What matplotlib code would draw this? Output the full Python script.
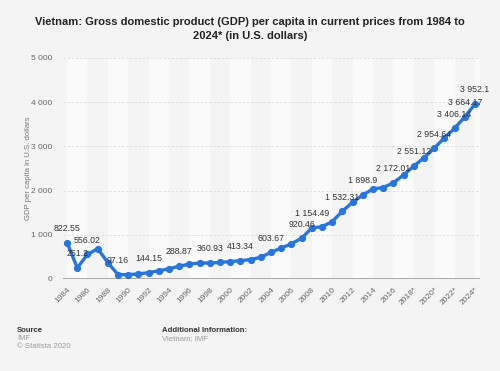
import matplotlib.pyplot as plt
import numpy as np

plt.rcParams['font.family'] = ['Liberation Sans', 'DejaVu Sans']

# --- data (IMF) ---
years = list(range(1984, 2025))
gdp = [822.55, 251.2, 556.02, 686, 370, 97.16, 98.03, 114, 144.15, 185,
       230, 288.87, 337, 361, 360.93, 374, 394.58, 413.34, 440, 489,
       603.67, 699, 797, 920.46, 1154.49, 1181, 1297, 1532.31, 1735, 1898.9,
       2035, 2068, 2172.01, 2353, 2551.12, 2740, 2954.64, 3190, 3406.14, 3664.17,
       3952.1]
labelled = [1984, 1985, 1986, 1989, 1992, 1995, 1998, 2001, 2004, 2007, 2008,
            2011, 2013, 2016, 2018, 2020, 2022, 2023, 2024]
tick_years = list(range(1984, 2025, 2))
tick_labels = [str(y) + ('*' if y >= 2018 else '') for y in tick_years]
y_ticks = [0, 1000, 2000, 3000, 4000, 5000]


def fmt(v):
    s = f"{v:,.2f}".rstrip('0').rstrip('.')
    return s.replace(',', ' ')


bg = '#f4f4f4'
fig = plt.figure(figsize=(5, 3.71), dpi=100, facecolor=bg)
ax = fig.add_axes([0.126, 0.248, 0.834, 0.596])
ax.set_facecolor(bg)

# alternating bands
for start in range(1984, 2025, 4):
    ax.axvspan(start, start + 2, color='#fafafa', zorder=0, lw=0)

ax.set_xlim(1983.6, 2024.5)
ax.set_ylim(0, 5000)

for v in y_ticks[1:]:
    ax.axhline(v, color='#dddddd', lw=0.6, ls=(0, (3, 2)), zorder=1)
ax.axhline(0, color='#999999', lw=1.2, zorder=2)

ax.plot(years, gdp, color='#2876dd', lw=2.4, marker='o', ms=4.2, zorder=3)

for y, v in zip(years, gdp):
    if y in labelled:
        ax.annotate(fmt(v), (y, v), xytext=(0, 7), textcoords='offset points',
                    ha='center', va='bottom', fontsize=6.3, color='#333333', zorder=4)

ax.set_yticks(y_ticks)
ax.set_yticklabels([fmt(v) for v in y_ticks])
ax.set_xticks(tick_years)
ax.set_xticklabels(tick_labels, rotation=45, ha='right', rotation_mode='anchor')
ax.tick_params(axis='both', length=0, labelsize=6, labelcolor='#666666')
ax.tick_params(axis='y', pad=8)
ax.tick_params(axis='x', pad=5)
for s in ax.spines.values():
    s.set_visible(False)

ax.set_ylabel('GDP per capita in U.S. dollars', fontsize=5.6, color='#777777', labelpad=-1)

fig.text(0.5, 0.955, 'Vietnam: Gross domestic product (GDP) per capita in current prices from 1984 to\n2024* (in U.S. dollars)',
         ha='center', va='top', fontsize=8, fontweight='bold', color='#222222', linespacing=1.6)

fig.text(0.034, 0.105, 'Source', fontsize=5.6, fontweight='bold', color='#333333')
fig.text(0.034, 0.083, 'IMF', fontsize=5.6, color='#999999')
fig.text(0.034, 0.061, '© Statista 2020', fontsize=5.6, color='#999999')
fig.text(0.324, 0.105, 'Additional Information:', fontsize=5.6, fontweight='bold', color='#333333')
fig.text(0.324, 0.083, 'Vietnam; IMF', fontsize=5.6, color='#999999')

fig.savefig('out.png', dpi=100, facecolor=bg)
